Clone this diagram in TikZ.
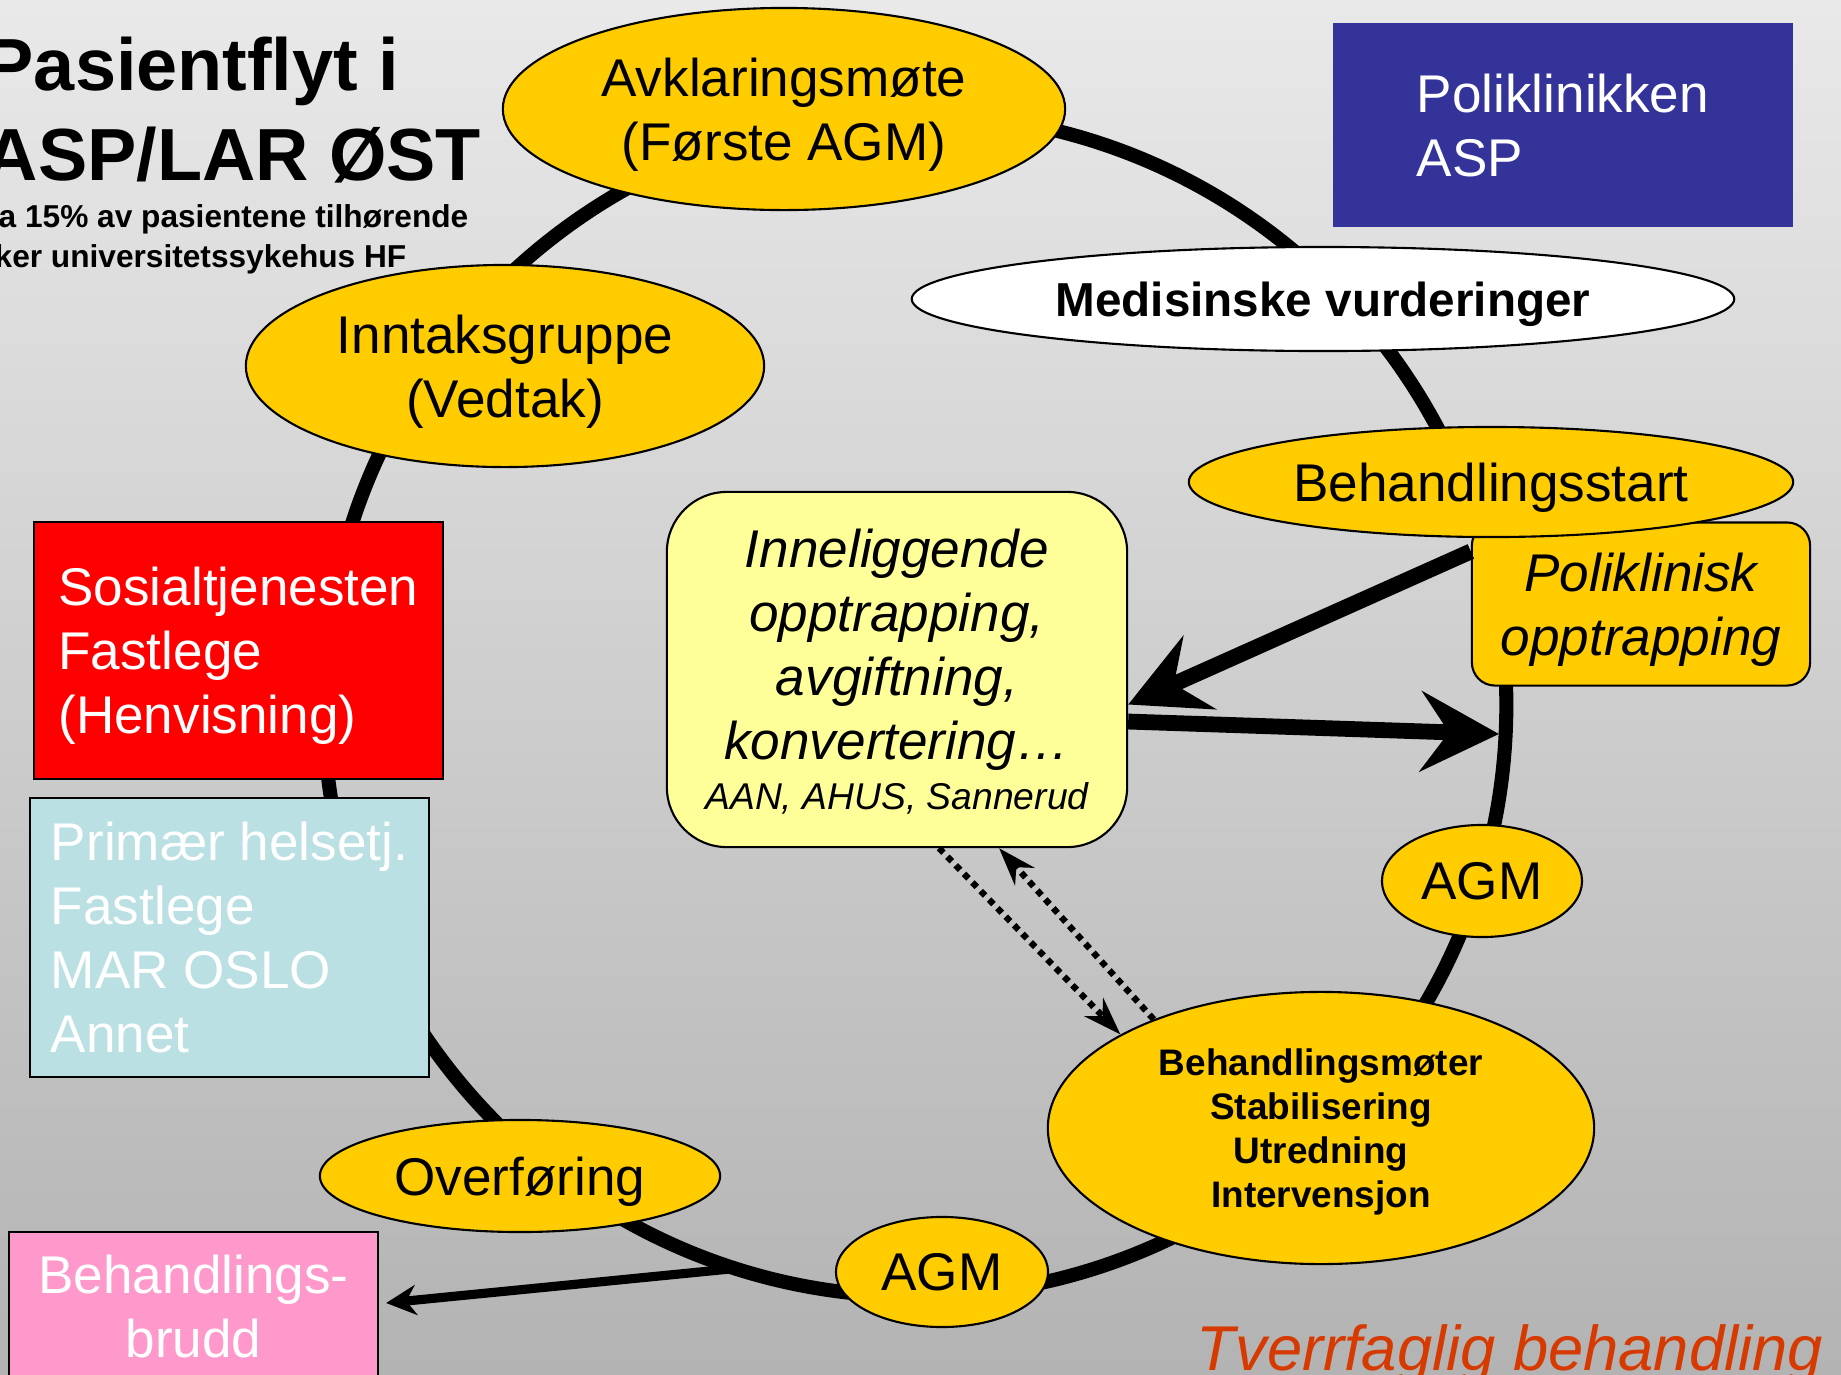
\documentclass[tikz,border=0pt]{standalone}
\usepackage{fontspec}
\setmainfont{Liberation Sans}
\usetikzlibrary{shapes.geometric,arrows.meta,positioning}
\definecolor{agmyellow}{RGB}{255,204,0}
\definecolor{innelyellow}{RGB}{255,255,153}
\definecolor{henvred}{RGB}{255,0,0}
\definecolor{primblue}{RGB}{186,224,227}
\definecolor{bruddpink}{RGB}{255,153,204}
\definecolor{aspblue}{RGB}{51,51,153}
\definecolor{tverrred}{RGB}{214,58,0}
\definecolor{bgtop}{RGB}{233,233,233}
\definecolor{bgbottom}{RGB}{179,179,179}
\newcommand{\fsz}[2]{\fontsize{#1}{#2}\selectfont}

\begin{document}
\begin{tikzpicture}[x=0.01cm, y=-0.01cm,
    oval/.style={ellipse, draw=black, line width=0.6pt, fill=agmyellow, inner sep=0pt,
                 align=center, text depth=0pt, font=\fsz{15.1pt}{18.2pt}},
    infobox/.style={rectangle, draw=black, line width=0.6pt, inner sep=0pt, align=left,
                    text depth=0pt, text=white, font=\fsz{15.1pt}{18.2pt}},
    roundbox/.style={rectangle, draw=black, line width=0.6pt, inner sep=0pt, align=center,
                     text depth=0pt, font=\fsz{15.1pt}{18.2pt}\itshape},
    ring/.style={line width=4pt},
    bigarrow/.style={-{Stealth[length=7.8mm, width=8mm, inset=2.8mm]}, line width=4.5pt},
    dotarrow/.style={-{Stealth[length=3.8mm, width=2.6mm]}, line width=1.8pt, dash pattern=on 1.8pt off 1.6pt}]
\useasboundingbox (0,0) rectangle (1841,1375);
\shade[top color=bgtop, bottom color=bgbottom] (0,0) rectangle (1841,1375);
% title, partly cut at the left edge
\node[anchor=base west, inner sep=0pt, font=\fsz{21pt}{25pt}\bfseries] (title) at (-16,90) {Pasientflyt i};
\node[anchor=base west, inner sep=0pt, font=\fsz{21pt}{25pt}\bfseries] (titleb) at (-16,180) {ASP/LAR ØST};
\node[anchor=base west, inner sep=0pt, font=\fsz{9pt}{11pt}\bfseries] (sub) at (-2,227) {a 15\% av pasientene tilhørende};
\node[anchor=base west, inner sep=0pt, font=\fsz{9pt}{11pt}\bfseries] (subb) at (-6,267) {ker universitetssykehus HF};
% the treatment cycle
\coordinate (ctr) at (915,705);
\draw[ring] (ctr) circle[radius=5.91cm];
\node[oval, minimum width=5.62cm, minimum height=2.02cm] (avkl) at (784,109) {Avklaringsmøte\\(Første AGM)};
\node[oval, minimum width=5.18cm, minimum height=2.02cm] (inntak) at (505,366) {Inntaksgruppe\\(Vedtak)};
\node[oval, fill=white, minimum width=8.22cm, minimum height=1.04cm, font=\fsz{13.55pt}{16pt}\bfseries] (medis) at (1323,299) {Medisinske vurderinger};
\node[roundbox, rounded corners=0.23cm, fill=agmyellow, minimum width=3.38cm, minimum height=1.63cm] (polop) at (1641,604) {Poliklinisk\\opptrapping};
\node[oval, minimum width=6.04cm, minimum height=1.10cm] (bstart) at (1491,482) {Behandlingsstart};
\node[oval, minimum width=2.00cm, minimum height=1.12cm] (agmr) at (1482,881) {AGM};
\node[oval, minimum width=5.46cm, minimum height=2.72cm, font=\fsz{10.5pt}{12.5pt}\bfseries] (bmote) at (1321,1128) {Behandlingsmøter\\Stabilisering\\Utredning\\Intervensjon};
\node[oval, minimum width=2.12cm, minimum height=1.10cm] (agmb) at (942,1272) {AGM};
\node[oval, minimum width=4.00cm, minimum height=1.12cm] (overf) at (520,1176) {Overføring};
\node[roundbox, rounded corners=0.6cm, fill=innelyellow, minimum width=4.60cm, minimum height=3.55cm] (innel) at (897,669.5) {Inneliggende\\opptrapping,\\avgiftning,\\konvertering…\\[-4pt]\fsz{10.6pt}{13.9pt}AAN, AHUS, Sannerud};
% boxes outside the cycle
\node[infobox, fill=henvred, minimum width=4.09cm, minimum height=2.57cm] (henv) at (238.5,650.5) {Sosialtjenesten\\Fastlege\\(Henvisning)};
\node[infobox, fill=primblue, minimum width=3.99cm, minimum height=2.79cm] (prim) at (229.5,937.5) {Primær helsetj.\\Fastlege\\MAR OSLO\\Annet};
\node[infobox, fill=bruddpink, align=center, minimum width=3.69cm, minimum height=1.48cm] (brudd) at (193.5,1306) {Behandlings-\\brudd};
\node[infobox, fill=aspblue, draw=none, minimum width=4.60cm, minimum height=2.04cm] (asp) at (1563,125) {Poliklinikken\\ASP};
\node[anchor=base west, inner sep=0pt, text=tverrred, font=\fsz{18pt}{22pt}\itshape] (tverr) at (1196,1370) {Tverrfaglig behandling};
% arrows
\coordinate (ringr) at (1499,734);
\coordinate (ringb) at (740,1268);
\draw[bigarrow] ([yshift=-0.3cm]polop.north west) -- ([yshift=-0.35cm]innel.east);
\draw[bigarrow] ([yshift=-0.52cm]innel.east) -- (ringr);
\draw[dotarrow] ([xshift=0.42cm]innel.south) -- (bmote.155);
\draw[dotarrow] (bmote.147) -- ([xshift=1.02cm]innel.south);
\draw[-{Stealth[length=3mm, width=3mm]}, line width=2.6pt] (ringb) -- ([xshift=0.07cm, yshift=0.03cm]brudd.east);
\end{tikzpicture}
\end{document}
